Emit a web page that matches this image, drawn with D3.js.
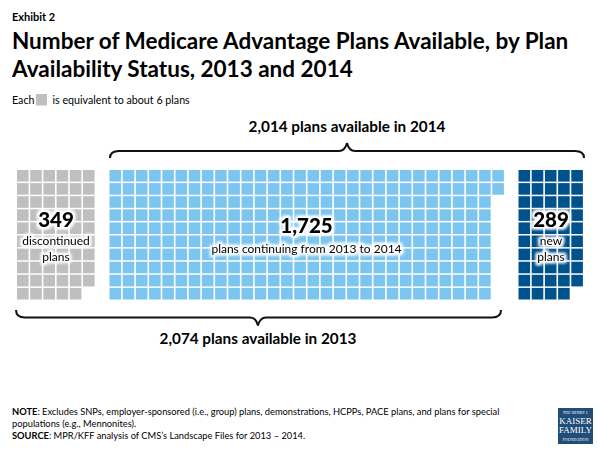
<!DOCTYPE html>
<meta charset="utf-8">
<style>
  body { margin: 0; background: #fff; }
  text { font-family: Lato, "Open Sans", sans-serif; fill: #000; }
</style>
<script src="https://d3js.org/d3.v7.min.js"></script>
<div id="chart"></div>
<script>
  const groups = ["discontinued", "continuing", "new"];
  const planCounts = ["349", "1,725", "289"];
  const squareCounts = [59, 292, 49];
  const columnCounts = [6, 30, 5];
  const groupColors = ["#bfbfbf", "#7cc5ef", "#00528c"];
  const groupLabels = [["discontinued", "plans"], ["plans continuing from 2013 to 2014"], ["new", "plans"]];
  const titleLines = [
    "Number of Medicare Advantage Plans Available, by Plan",
    "Availability Status, 2013 and 2014"
  ];
  const noteLines = [
    "Excludes SNPs, employer-sponsored (i.e., group) plans, demonstrations, HCPPs, PACE plans, and plans for special",
    "populations (e.g., Mennonites).",
    "MPR/KFF analysis of CMS\u2019s Landscape Files for 2013 \u2013 2014."
  ];
  const logoLines = ["THE HENRY J.", "KAISER", "FAMILY", "FOUNDATION"];

  const width = 600, height = 450;
  const rowsPerColumn = 10;
  const pitchX = 13.2, pitchY = 13.1, cell = 11.6;
  const groupLeft = [17, 109.5, 518.5];
  const gridTop = 170;

  const svg = d3.select("#chart").append("svg")
    .attr("width", width)
    .attr("height", height)
    .style("display", "block");

  // white glow behind the labels on the grids
  const glow = svg.append("defs").append("filter")
    .attr("id", "glow")
    .attr("color-interpolation-filters", "sRGB")
    .attr("x", "-20%").attr("y", "-40%").attr("width", "140%").attr("height", "180%");
  glow.append("feMorphology").attr("in", "SourceAlpha").attr("operator", "dilate").attr("radius", 1.5).attr("result", "fat");
  glow.append("feGaussianBlur").attr("in", "fat").attr("stdDeviation", 1.8).attr("result", "soft");
  glow.append("feFlood").attr("flood-color", "#fff").attr("result", "white");
  glow.append("feComposite").attr("in", "white").attr("in2", "soft").attr("operator", "in").attr("result", "halo");
  const merge = glow.append("feMerge");
  merge.append("feMergeNode").attr("in", "halo");
  merge.append("feMergeNode").attr("in", "halo");
  merge.append("feMergeNode").attr("in", "SourceGraphic");

  // header
  svg.append("text").attr("x", 12).attr("y", 20.5).attr("font-size", 11).attr("font-weight", 700).text("Exhibit 2");
  svg.selectAll(".title").data(titleLines).join("text")
    .attr("class", "title")
    .attr("x", 12)
    .attr("y", (d, i) => 49 + i * 28)
    .attr("font-size", 22.5)
    .attr("font-weight", 700)
    .text(d => d);

  svg.append("text").attr("x", 12).attr("y", 104).attr("font-size", 10.7).attr("fill", "#262626").text("Each");
  svg.append("rect").attr("x", 36).attr("y", 94).attr("width", 11).attr("height", 11.5).attr("fill", groupColors[0]);
  svg.append("text").attr("x", 52.5).attr("y", 104).attr("font-size", 10.7).attr("fill", "#262626").text("is equivalent to about 6 plans");

  // squares, filled column by column from the top
  const yScale = d3.scaleBand()
    .domain(d3.range(rowsPerColumn))
    .range([gridTop, gridTop + rowsPerColumn * pitchY]);

  groups.forEach((name, g) => {
    const xScale = d3.scaleBand()
      .domain(d3.range(columnCounts[g]))
      .range([groupLeft[g], groupLeft[g] + columnCounts[g] * pitchX]);

    svg.append("g").attr("class", name)
      .selectAll("rect")
      .data(d3.range(squareCounts[g]))
      .join("rect")
      .attr("x", i => xScale(Math.floor(i / rowsPerColumn)))
      .attr("y", i => yScale(i % rowsPerColumn))
      .attr("width", cell)
      .attr("height", cell)
      .attr("fill", groupColors[g]);
  });

  // labels over the squares
  const labelCenter = [56, 306.5, 551];
  const countBaseline = [227, 233, 227];
  const labelBaseline = [245, 252.5, 245];
  groups.forEach((name, g) => {
    svg.append("text")
      .attr("x", labelCenter[g]).attr("y", countBaseline[g])
      .attr("text-anchor", "middle")
      .attr("font-size", 20.5)
      .attr("font-weight", 900)
      .attr("filter", "url(#glow)")
      .text(planCounts[g]);
    svg.selectAll(".lab" + g).data(groupLabels[g]).join("text")
      .attr("class", "lab" + g)
      .attr("x", labelCenter[g])
      .attr("y", (d, i) => labelBaseline[g] + i * 15.5)
      .attr("text-anchor", "middle")
      .attr("font-size", 12)
      .attr("filter", "url(#glow)")
      .text(d => d);
  });

  // curly brackets
  function bracket(x0, xm, x1, yEdge, yBar, yTip) {
    const r = 9;
    return `M${x0},${yEdge} Q${x0},${yBar} ${x0 + r},${yBar} L${xm - 8},${yBar} Q${xm - 2},${yBar} ${xm},${yTip}`
      + ` Q${xm + 2},${yBar} ${xm + 8},${yBar} L${x1 - r},${yBar} Q${x1},${yBar} ${x1},${yEdge}`;
  }
  svg.append("path").attr("d", bracket(110, 347, 584, 158, 151, 143))
    .attr("fill", "none").attr("stroke", "#111").attr("stroke-width", 2);
  svg.append("path").attr("d", bracket(16, 258, 501, 310, 317.5, 325.5))
    .attr("fill", "none").attr("stroke", "#111").attr("stroke-width", 2);

  svg.append("text").attr("x", 347).attr("y", 132).attr("text-anchor", "middle")
    .attr("font-size", 15.3).attr("font-weight", 700).text("2,014 plans available in 2014");
  svg.append("text").attr("x", 258).attr("y", 344).attr("text-anchor", "middle")
    .attr("font-size", 15.3).attr("font-weight", 700).text("2,074 plans available in 2013");

  // notes
  const note = svg.append("text").attr("font-size", 9.3).attr("fill", "#1a1a1a");
  note.append("tspan").attr("x", 12).attr("y", 415).attr("font-weight", 700).text("NOTE");
  note.append("tspan").text(": " + noteLines[0]);
  note.append("tspan").attr("x", 12).attr("y", 427).text(noteLines[1]);
  note.append("tspan").attr("x", 12).attr("y", 439).attr("font-weight", 700).text("SOURCE");
  note.append("tspan").text(":  " + noteLines[2]);

  // logo
  const logo = svg.append("g").attr("transform", "translate(558,408)");
  logo.append("rect").attr("width", 35).attr("height", 36).attr("fill", "#1f4e79");
  const logoY = [6, 16, 25, 33], logoSize = [4, 9, 9, 4];
  logo.selectAll("text").data(logoLines).join("text")
    .attr("x", 17.5)
    .attr("y", (d, i) => logoY[i])
    .attr("text-anchor", "middle")
    .attr("font-size", (d, i) => logoSize[i])
    .style("font-family", "'Liberation Serif', serif")
    .style("fill", "#fff")
    .text(d => d);
</script>
